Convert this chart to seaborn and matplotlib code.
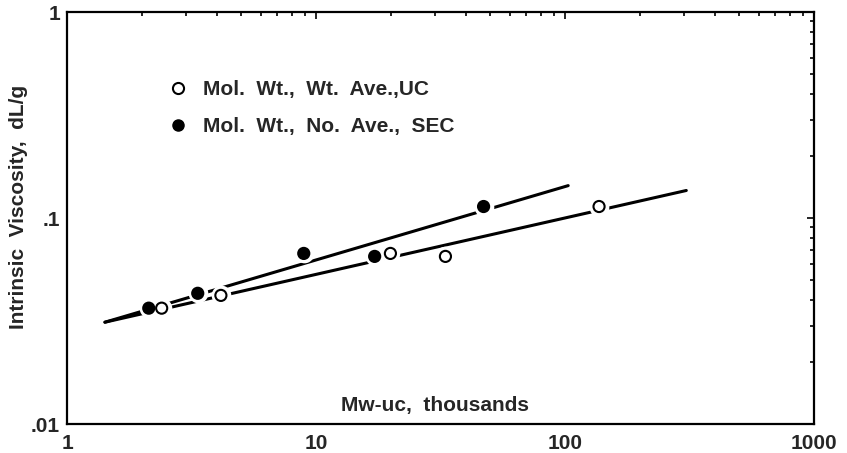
import numpy as np
import pandas as pd
import matplotlib
matplotlib.use("Agg")
import matplotlib.pyplot as plt
import seaborn as sns
from matplotlib.lines import Line2D
from matplotlib.ticker import FixedLocator, LogLocator, NullFormatter

# ---- data ----
series_names = ["Mol.  Wt.,  Wt.  Ave.,UC", "Mol.  Wt.,  No.  Ave.,  SEC"]
uc_mw = [2.4, 4.15, 19.9, 33.1, 137]
uc_iv = [0.0365, 0.0421, 0.0673, 0.0651, 0.1137]
sec_mw = [2.13, 3.35, 8.93, 17.2, 47.1]
sec_iv = [0.0365, 0.0431, 0.0673, 0.0651, 0.1137]
# fitted lines (end points)
uc_fit_mw = [1.42, 307]
uc_fit_iv = [0.0312, 0.136]
sec_fit_mw = [1.42, 103]
sec_fit_iv = [0.0312, 0.1436]
x_ticks = [1, 10, 100, 1000]
x_ticklabels = ["1", "10", "100", "1000"]
y_ticks = [0.01, 0.1, 1]
y_ticklabels = [".01", ".1", "1"]

pts = pd.DataFrame({
    "mw": uc_mw + sec_mw,
    "iv": uc_iv + sec_iv,
    "series": [series_names[0]] * len(uc_mw) + [series_names[1]] * len(sec_mw),
})
fits = pd.DataFrame({
    "mw": uc_fit_mw + sec_fit_mw,
    "iv": uc_fit_iv + sec_fit_iv,
    "series": [series_names[0]] * 2 + [series_names[1]] * 2,
})

sns.set_style("white")
plt.rcParams["font.family"] = ["Liberation Sans", "DejaVu Sans"]
plt.rcParams["font.weight"] = "bold"

W, H = 847, 453
fig = plt.figure(figsize=(W / 100, H / 100), dpi=100)
L, R, T, B = 67, 814, 12, 424
ax = fig.add_axes([L / W, (H - B) / H, (R - L) / W, (B - T) / H])
ax.set_xscale("log")
ax.set_yscale("log")

sns.lineplot(data=fits, x="mw", y="iv", units="series", estimator=None,
             color="black", linewidth=2.2, ax=ax, zorder=2, legend=False)

# white halos that interrupt the lines around each marker
ax.scatter(pts["mw"], pts["iv"], s=200, color="white", zorder=3, linewidths=0)

palette = {series_names[0]: "white", series_names[1]: "black"}
sns.scatterplot(data=pts, x="mw", y="iv", hue="series", palette=palette,
                edgecolor="black", linewidth=1.5, s=64, ax=ax, zorder=4,
                legend=False)

ax.set_xlim(1, 1000)
ax.set_ylim(0.01, 1)

ax.xaxis.set_major_locator(FixedLocator(x_ticks))
ax.yaxis.set_major_locator(FixedLocator(y_ticks))
ax.set_xticklabels(x_ticklabels)
ax.set_yticklabels(y_ticklabels)
ax.xaxis.set_minor_locator(LogLocator(base=10, subs=np.arange(2, 10)))
ax.yaxis.set_minor_locator(LogLocator(base=10, subs=np.arange(2, 10)))
ax.xaxis.set_minor_formatter(NullFormatter())
ax.yaxis.set_minor_formatter(NullFormatter())
ax.tick_params(which="both", direction="in", top=True, right=True,
               color="black", width=1.2)
ax.tick_params(which="major", length=5)
ax.tick_params(which="minor", length=3)
ax.tick_params(axis="x", which="major", labelsize=15, pad=7)
ax.tick_params(axis="y", which="major", labelsize=15, pad=5)
for lab in ax.get_xticklabels() + ax.get_yticklabels():
    lab.set_fontweight("bold")

for sp in ax.spines.values():
    sp.set_visible(True)
    sp.set_color("black")
    sp.set_linewidth(1.6)

ax.set_xlabel("")
ax.set_ylabel("")
fig.text(19 / W, (H - 207) / H, "Intrinsic  Viscosity,  dL/g", rotation=90,
         ha="center", va="center", fontsize=15, fontweight="bold")
ax.text(0.493, 0.045, "Mw-uc,  thousands", transform=ax.transAxes,
        ha="center", va="center", fontsize=15, fontweight="bold")

handles = [
    Line2D([], [], marker="o", linestyle="none", markerfacecolor="white",
           markeredgecolor="black", markeredgewidth=1.5, markersize=8),
    Line2D([], [], marker="o", linestyle="none", markerfacecolor="black",
           markeredgecolor="black", markersize=8),
]
leg = ax.legend(handles, series_names, loc="upper left",
                bbox_to_anchor=(0.11, 0.88), frameon=False,
                prop={"size": 15, "weight": "bold"}, handletextpad=0.7,
                labelspacing=0.85, handlelength=1.0)

fig.savefig("out.png", dpi=100)
